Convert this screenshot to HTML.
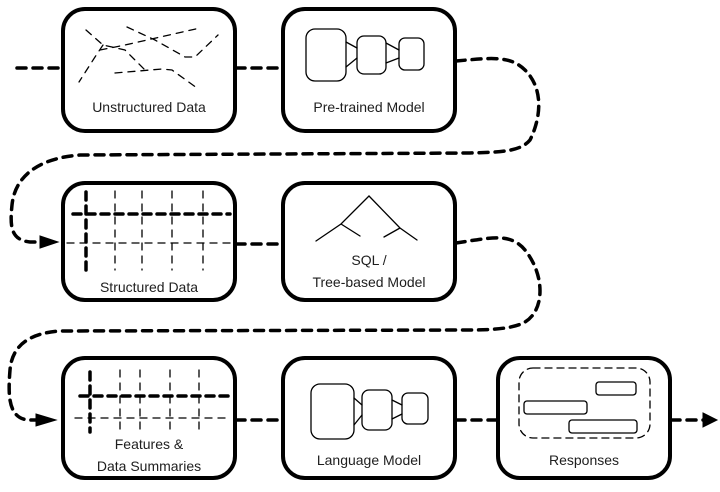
<!DOCTYPE html>
<html><head><meta charset="utf-8"><style>
html,body{margin:0;padding:0;background:#fff;}
svg{display:block}
text{font-family:"Liberation Sans",sans-serif;font-size:14px;fill:#1e1e1e;text-anchor:middle}
</style></head><body>
<svg width="720" height="492" viewBox="0 0 720 492" xmlns="http://www.w3.org/2000/svg">
<g fill="none" stroke="#000" stroke-linecap="round">
<g stroke-width="4">
<rect x="63" y="9" width="172" height="122" rx="22"/>
<rect x="283" y="9" width="172" height="122" rx="22"/>
<rect x="63" y="183" width="172" height="117" rx="22"/>
<rect x="283" y="183" width="172" height="117" rx="22"/>
<rect x="63" y="358" width="172" height="120" rx="22"/>
<rect x="283" y="358" width="172" height="120" rx="22"/>
<rect x="498" y="358" width="172" height="120" rx="22"/>
</g>
<g stroke-width="3.5" stroke-dasharray="9,7">
<path d="M17 68 L62 68"/>
<path d="M236 68 L282 68"/>
<path d="M456 61 C490 58 510 55 525 70 C545 90 540 120 530 140 C520 152 500 152 470 153 L80 155 C40 158 15 175 12 205 C10 225 10 240 30 242 L48 242"/>
<path d="M236 244 L282 244"/>
<path d="M456 243 C490 238 510 232 525 250 C545 275 545 310 525 322 C515 328 495 330 470 330 L60 331 C30 333 12 345 10 370 C8 395 8 418 28 420 L42 420"/>
<path d="M236 420 L282 420"/>
<path d="M456 420 L497 420"/>
<path d="M671 420 L705 420"/>
</g>
<g fill="#000" stroke-width="1">
<path d="M40 236 L58 242 L40 248 Z"/>
<path d="M36 414 L56 420 L36 426 Z"/>
<path d="M703 413 L717 420 L703 427 Z"/>
</g>
<g stroke-width="1.3" stroke-dasharray="7,6">
<path d="M86 30 L103 45 L125 50 L145 70"/>
<path d="M127 27 L155 40 L185 57 L195 57 L218 35"/>
<path d="M103 45 L95 57 L79 82"/>
<path d="M100 50 L125 45 L200 28"/>
<path d="M115 73 L162 69 L172 70 L197 88"/>
</g>
<g stroke-width="1.3">
<rect x="306" y="29" width="40" height="52" rx="9"/>
<rect x="357" y="36" width="29" height="38" rx="7"/>
<rect x="399" y="38" width="25" height="32" rx="6"/>
<path d="M346 42 L357 48 M346 67 L357 58 M386 43 L399 50 M386 63 L399 58"/>
</g>
<g stroke-width="1.3" stroke-dasharray="7,6">
<path d="M115 191 V270 M142 191 V270 M172 191 V270 M203 191 V270"/>
<path d="M67 243 H232"/>
</g>
<g stroke-width="3.5" stroke-dasharray="8,6">
<path d="M86 192 V270"/>
<path d="M73 214 H230"/>
</g>
<g stroke-width="1.3">
<path d="M369 196 L341 224 L316 241 M341 224 L360 236 M369 196 L400 228 L417 240 M400 228 L384 237"/>
</g>
<g stroke-width="1.3" stroke-dasharray="7,6">
<path d="M120 370 V432 M140 370 V432 M170 370 V432 M199 370 V432"/>
<path d="M75 418 H228"/>
</g>
<g stroke-width="3.5" stroke-dasharray="8,6">
<path d="M90 372 V432"/>
<path d="M80 396 H228"/>
</g>
<g stroke-width="1.3">
<rect x="311" y="384" width="43" height="55" rx="9"/>
<rect x="362" y="390" width="30" height="40" rx="7"/>
<rect x="402" y="393" width="26" height="31" rx="6"/>
<path d="M354 398 L362 405 M354 425 L362 415 M392 400 L402 405 M392 419 L402 414"/>
</g>
<rect x="519" y="368" width="131" height="70" rx="14" stroke-width="1.3" stroke-dasharray="7,5"/>
<g stroke-width="1.3">
<rect x="596" y="382" width="40" height="13" rx="3"/>
<rect x="524" y="401" width="63" height="13" rx="3"/>
<rect x="569" y="420" width="68" height="13" rx="3"/>
</g>
</g>
<text x="149" y="112">Unstructured Data</text>
<text x="369" y="112">Pre-trained Model</text>
<text x="149" y="292">Structured Data</text>
<text x="369" y="265">SQL /</text>
<text x="369" y="287">Tree-based Model</text>
<text x="149" y="449">Features &amp;</text>
<text x="149" y="471">Data Summaries</text>
<text x="369" y="465">Language Model</text>
<text x="584" y="465">Responses</text>
</svg>
</body></html>
